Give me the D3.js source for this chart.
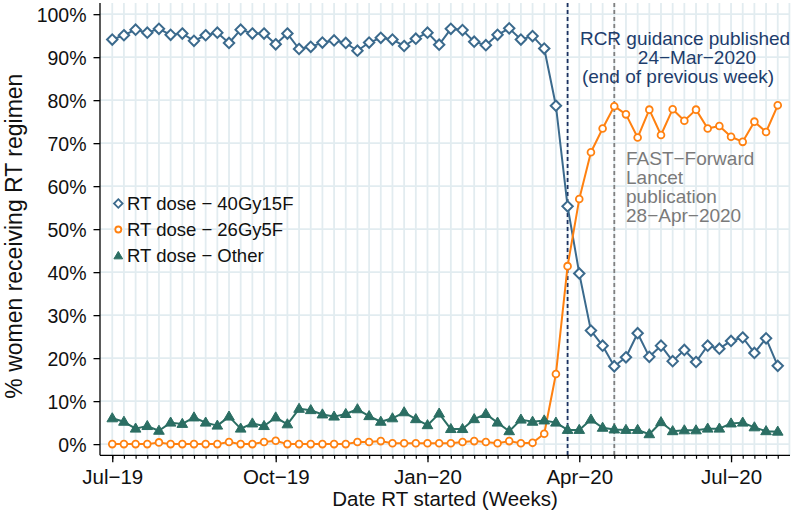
<!DOCTYPE html>
<html>
<head>
<meta charset="utf-8">
<script src="https://cdn.jsdelivr.net/npm/d3@7/dist/d3.min.js"></script>
<style>
  html, body { margin: 0; padding: 0; background: #ffffff; }
  svg { display: block; font-family: "Liberation Sans", Arial, sans-serif; }
</style>
</head>
<body>
<svg id="chart" width="792" height="512"></svg>
<script>
// ---- data (weekly, starting week of Jul-2019) ----
const dose40 = [94.1,95.1,96.4,95.7,96.6,95.2,95.5,93.8,95.1,95.7,93.3,96.4,95.5,95.5,93.0,95.5,91.9,92.4,
  93.4,93.9,93.3,91.5,93.4,94.5,94.1,92.6,94.3,95.7,92.9,96.6,96.3,93.6,92.8,95.2,96.7,94.1,94.9,92.0,78.7,
  55.3,39.7,26.4,22.9,18.1,20.2,25.8,20.3,22.9,19.3,21.9,19.1,22.9,22.2,24.0,24.8,21.2,24.6,18.2];
const dose26 = [0,0,0,0,0.4,0,0,0,0,0,0.5,0,0,0.5,0.8,0,0,0,0,0,
  0,0.5,0.5,0.7,0.2,0.2,0.2,0.2,0.2,0.2,0.5,0.7,0.5,0.2,0.7,0.2,0.3,2.4,16.3,41.4,
  57.0,67.9,73.4,78.6,76.7,71.3,77.8,71.9,77.9,75.2,77.8,73.4,74.0,71.5,70.3,75.0,72.6,78.8];
const doseOther = [6.0,5.2,3.6,4.2,3.1,5.0,4.7,6.2,5.0,4.3,6.4,3.6,4.8,4.2,6.2,4.6,8.2,7.9,6.9,6.4,
  7.0,8.1,6.5,5.2,6.0,7.4,5.8,4.4,7.1,3.5,3.5,5.8,7.0,5.0,3.0,5.7,5.2,5.5,5.0,3.3,
  3.3,5.7,3.8,3.4,3.3,3.3,2.3,5.1,3.0,3.2,3.2,3.6,3.6,4.8,5.0,3.9,3.0,2.9];
const seriesNames = ["RT dose \u2212 40Gy15F", "RT dose \u2212 26Gy5F", "RT dose \u2212 Other"];
const xTickWeeks = [0, 14, 27, 40, 53];
const xTickLabels = ["Jul\u221219", "Oct\u221219", "Jan\u221220", "Apr\u221220", "Jul\u221220"];
const yTicks = [0,10,20,30,40,50,60,70,80,90,100];
const rcrWeek = 39;
const fastWeek = 43;
const rcrText = ["RCR guidance published", "24\u2212Mar\u22122020", "(end of previous week)"];
const fastText = ["FAST\u2212Forward", "Lancet", "publication", "28\u2212Apr\u22122020"];

// ---- layout ----
const svg = d3.select("#chart");
const pL = 100, pR = 790, pT = 3, pB = 455.3;
const x = d3.scaleLinear().domain([-1.05, 58.05]).range([pL, pR]);
const y = d3.scaleLinear().domain([-2.6, 102.6]).range([pB, pT]);

const gridColor = "#e2ecf0";
const colBlue = "#3b6a8d";
const colOrange = "#ff8110";
const colGreen = "#2b6e63";

const weeks = d3.range(dose40.length);
const gridWeeks = d3.range(0, 59);

// gridlines
svg.append("g").selectAll("line").data(gridWeeks).join("line")
  .attr("x1", d => x(d)).attr("x2", d => x(d))
  .attr("y1", pT).attr("y2", pB)
  .attr("stroke", gridColor).attr("stroke-width", 1.8);
svg.append("g").selectAll("line").data(yTicks).join("line")
  .attr("x1", pL).attr("x2", pR)
  .attr("y1", d => y(d)).attr("y2", d => y(d))
  .attr("stroke", gridColor).attr("stroke-width", 1.8);

// reference lines
svg.append("line")
  .attr("x1", x(rcrWeek)).attr("x2", x(rcrWeek)).attr("y1", pT).attr("y2", pB)
  .attr("stroke", "#1b3160").attr("stroke-width", 1.8).attr("stroke-dasharray", "4,3");
svg.append("line")
  .attr("x1", x(fastWeek)).attr("x2", x(fastWeek)).attr("y1", pT).attr("y2", pB)
  .attr("stroke", "#808080").attr("stroke-width", 1.8).attr("stroke-dasharray", "4,3");

// axes
const yAxis = d3.axisLeft(y).tickValues(yTicks).tickSize(6.5).tickPadding(7)
  .tickFormat(d => d + "%");
const gy = svg.append("g").attr("transform", `translate(${pL},0)`).call(yAxis);
gy.select(".domain").attr("d", `M0,${pT}V${pB}`).attr("stroke", "#000").attr("stroke-width", 1.3);
gy.selectAll(".tick line").attr("stroke", "#000").attr("stroke-width", 1.3);
gy.selectAll(".tick text").attr("font-size", 19.5).attr("fill", "#111")
  .attr("font-family", "Liberation Sans, Arial, sans-serif").attr("dy", "0.36em");

const xMinor = d3.axisBottom(x).tickValues(weeks).tickSize(3.5).tickFormat("");
const gxm = svg.append("g").attr("transform", `translate(0,${pB})`).call(xMinor);
gxm.select(".domain").attr("d", `M${pL},0H${pR}`).attr("stroke", "#000").attr("stroke-width", 1.3);
gxm.selectAll(".tick line").attr("stroke", "#000").attr("stroke-width", 1.2);

const xAxis = d3.axisBottom(x).tickValues(xTickWeeks).tickSize(7).tickPadding(6)
  .tickFormat((d, i) => xTickLabels[i]);
const gx = svg.append("g").attr("transform", `translate(0,${pB})`).call(xAxis);
gx.select(".domain").remove();
gx.selectAll(".tick line").attr("stroke", "#000").attr("stroke-width", 1.3);
gx.selectAll(".tick text").attr("font-size", 20.5).attr("fill", "#111")
  .attr("font-family", "Liberation Sans, Arial, sans-serif").attr("dy", "0.75em");

// axis titles
svg.append("text").attr("x", (pL + pR) / 2).attr("y", 505.5)
  .attr("text-anchor", "middle").attr("font-size", 20.5).attr("fill", "#111")
  .text("Date RT started (Weeks)");
svg.append("text")
  .attr("transform", `translate(21.5,${(y(0) + y(100)) / 2 + 7}) rotate(-90)`)
  .attr("text-anchor", "middle").attr("font-size", 23).attr("fill", "#111")
  .text("% women receiving RT regimen");

// series
const line = d3.line().x((d, i) => x(i)).y(d => y(d));
function drawLine(data, color) {
  svg.append("path").datum(data).attr("d", line)
    .attr("fill", "none").attr("stroke", color).attr("stroke-width", 2)
    .attr("stroke-linejoin", "round");
}
const diamond = (cx, cy, r) => `M${cx},${cy - r}L${cx + r},${cy}L${cx},${cy + r}L${cx - r},${cy}Z`;
const triangle = (cx, cy, r) => `M${cx},${cy - r}L${cx + r * 0.95},${cy + r * 0.62}L${cx - r * 0.95},${cy + r * 0.62}Z`;

drawLine(dose40, colBlue);
svg.append("g").selectAll("path").data(dose40).join("path")
  .attr("d", (d, i) => diamond(x(i), y(d), 5.2))
  .attr("fill", "#fff").attr("stroke", colBlue).attr("stroke-width", 2);

drawLine(dose26, colOrange);
svg.append("g").selectAll("circle").data(dose26).join("circle")
  .attr("cx", (d, i) => x(i)).attr("cy", d => y(d)).attr("r", 3.4)
  .attr("fill", "#fff").attr("stroke", colOrange).attr("stroke-width", 1.8);

drawLine(doseOther, colGreen);
svg.append("g").selectAll("path").data(doseOther).join("path")
  .attr("d", (d, i) => triangle(x(i), y(d), 5.6))
  .attr("fill", colGreen).attr("stroke", colGreen).attr("stroke-width", 1);

// legend
const legendY = [203.5, 229.5, 255.5];
const lg = svg.append("g");
lg.append("path").attr("d", diamond(118.3, legendY[0], 4.3)).attr("fill", "#fff")
  .attr("stroke", colBlue).attr("stroke-width", 1.8);
lg.append("circle").attr("cx", 118.3).attr("cy", legendY[1]).attr("r", 3)
  .attr("fill", "#fff").attr("stroke", colOrange).attr("stroke-width", 1.8);
lg.append("path").attr("d", triangle(118.3, legendY[2] + 0.5, 4.6)).attr("fill", colGreen)
  .attr("stroke", colGreen).attr("stroke-width", 1);
lg.selectAll("text").data(seriesNames).join("text")
  .attr("x", 127).attr("y", (d, i) => legendY[i]).attr("dy", "0.36em")
  .attr("font-size", 18.5).attr("fill", "#111").text(d => d);

// annotations
const rcrX = [685, 697, 678];
svg.append("g").selectAll("text").data(rcrText).join("text")
  .attr("x", (d, i) => rcrX[i]).attr("y", (d, i) => 45 + i * 18.8)
  .attr("text-anchor", "middle").attr("font-size", 19).attr("fill", "#1d3d6c")
  .text(d => d);
svg.append("g").selectAll("text").data(fastText).join("text")
  .attr("x", 626).attr("y", (d, i) => 165 + i * 18.9)
  .attr("font-size", 19).attr("fill", "#7a7a7a")
  .text(d => d);
</script>
</body>
</html>
